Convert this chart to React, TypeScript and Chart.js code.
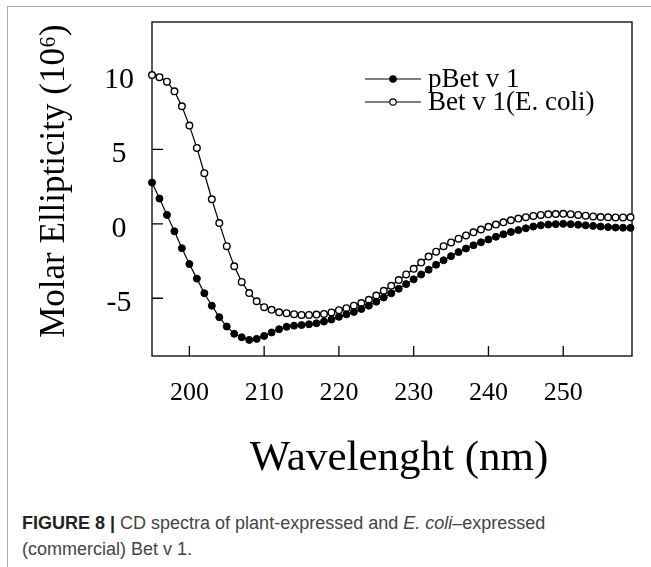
import React, { useEffect, useRef } from "react";
import { Chart, registerables } from "chart.js";

Chart.register(...registerables);

// ---- data ----
const wavelengths = [
  195, 196, 197, 198, 199, 200, 201, 202, 203, 204,
  205, 206, 207, 208, 209, 210, 211, 212, 213, 214,
  215, 216, 217, 218, 219, 220, 221, 222, 223, 224,
  225, 226, 227, 228, 229, 230, 231, 232, 233, 234,
  235, 236, 237, 238, 239, 240, 241, 242, 243, 244,
  245, 246, 247, 248, 249, 250, 251, 252, 253, 254,
  255, 256, 257, 258, 259,
];

const pBetValues = [
  2.77, 1.7, 0.6, -0.5, -1.64, -2.7, -3.68, -4.66, -5.5, -6.27,
  -6.9, -7.39, -7.62, -7.8, -7.73, -7.53, -7.3, -7.08, -6.92, -6.84,
  -6.8, -6.75, -6.68, -6.57, -6.43, -6.25, -6.08, -5.92, -5.72, -5.5,
  -5.23, -4.95, -4.67, -4.36, -4.05, -3.73, -3.4, -3.08, -2.75, -2.45,
  -2.17, -1.9, -1.66, -1.44, -1.24, -1.05, -0.87, -0.7, -0.55, -0.42,
  -0.3, -0.18, -0.1, -0.05, -0.02, 0.0, -0.02, -0.06, -0.1, -0.14,
  -0.18, -0.22, -0.25, -0.26, -0.27,
];

const betEcoliValues = [
  10.0, 9.85, 9.55, 8.9, 7.9, 6.6, 5.1, 3.4, 1.65, 0.05,
  -1.5, -2.85, -3.9, -4.65, -5.2, -5.6, -5.78, -5.94, -6.0, -6.07,
  -6.12, -6.12, -6.1, -6.05, -5.95, -5.8, -5.67, -5.5, -5.32, -5.1,
  -4.82, -4.5, -4.16, -3.78, -3.4, -3.02, -2.6, -2.2, -1.87, -1.5,
  -1.25, -1.0, -0.78, -0.57, -0.38, -0.2, -0.05, 0.1, 0.24, 0.35,
  0.45, 0.53, 0.6, 0.64, 0.66, 0.67, 0.65, 0.6, 0.55, 0.5,
  0.46, 0.44, 0.43, 0.43, 0.44,
];

const seriesNames = ["pBet v 1", "Bet v 1(E. coli)"];
const xTickValues = [200, 210, 220, 230, 240, 250];
const yTickValues = [-5, 0, 5, 10];
const xTitle = "Wavelenght (nm)";
const yTitle = "Molar Ellipticity (10\u2076)";

const SERIF = '"Liberation Serif", "Times New Roman", serif';

const frameAndTicks = {
  id: "frameAndTicks",
  beforeDatasetsDraw(chart: any) {
    const { ctx, chartArea, scales } = chart;
    const { left, right, top, bottom } = chartArea;
    ctx.save();
    ctx.strokeStyle = "#000";
    ctx.lineWidth = 1.3;
    ctx.strokeRect(left, top, right - left, bottom - top);
    ctx.beginPath();
    scales.x.ticks.forEach((t: any) => {
      const px = scales.x.getPixelForValue(t.value);
      ctx.moveTo(px, bottom);
      ctx.lineTo(px, bottom - 10);
    });
    scales.y.ticks.forEach((t: any) => {
      const py = scales.y.getPixelForValue(t.value);
      ctx.moveTo(left, py);
      ctx.lineTo(left + 11, py);
    });
    ctx.stroke();
    ctx.restore();
  },
};

const axisTitles = {
  id: "axisTitles",
  afterDraw(chart: any) {
    const { ctx, chartArea } = chart;
    ctx.save();
    ctx.fillStyle = "#000";
    ctx.textAlign = "center";
    ctx.textBaseline = "middle";
    // x title
    ctx.font = `43px ${SERIF}`;
    ctx.fillText(xTitle, (chartArea.left + chartArea.right) / 2 + 7, chartArea.bottom + 103);
    // y title
    ctx.font = `35px ${SERIF}`;
    ctx.translate(55, (chartArea.top + chartArea.bottom) / 2 - 8);
    ctx.rotate(-Math.PI / 2);
    ctx.fillText(yTitle, 0, 0);
    ctx.restore();
  },
};

const insideLegend = {
  id: "insideLegend",
  afterDraw(chart: any) {
    const { ctx, chartArea } = chart;
    const x0 = chartArea.left + 213;
    const len = 56;
    ctx.save();
    chart.data.datasets.forEach((ds: any, i: number) => {
      const y = chartArea.top + 57 + i * 23;
      ctx.strokeStyle = "#000";
      ctx.lineWidth = 1.2;
      ctx.beginPath();
      ctx.moveTo(x0, y);
      ctx.lineTo(x0 + len, y);
      ctx.stroke();
      ctx.beginPath();
      ctx.arc(x0 + len / 2, y, 3.2, 0, Math.PI * 2);
      ctx.fillStyle = ds.pointBackgroundColor;
      ctx.fill();
      ctx.lineWidth = 1.2;
      ctx.stroke();
      ctx.fillStyle = "#000";
      ctx.font = `27px ${SERIF}`;
      ctx.textBaseline = "middle";
      ctx.textAlign = "left";
      ctx.fillText(ds.label, x0 + len + 7, y + 1);
    });
    ctx.restore();
  },
};

export default function App() {
  const ref = useRef<HTMLCanvasElement | null>(null);

  useEffect(() => {
    if (!ref.current) return;
    const chart = new Chart(ref.current, {
      type: "line",
      data: {
        datasets: [
          {
            label: seriesNames[0],
            data: wavelengths.map((w, i) => ({ x: w, y: pBetValues[i] })),
            borderColor: "#000",
            backgroundColor: "#000",
            pointBackgroundColor: "#000",
            pointBorderColor: "#000",
            pointRadius: 3.5,
            pointBorderWidth: 1,
            borderWidth: 1.2,
            tension: 0,
            clip: false,
          },
          {
            label: seriesNames[1],
            data: wavelengths.map((w, i) => ({ x: w, y: betEcoliValues[i] })),
            borderColor: "#000",
            backgroundColor: "#fff",
            pointBackgroundColor: "#fff",
            pointBorderColor: "#000",
            pointRadius: 3.3,
            pointBorderWidth: 1.4,
            borderWidth: 1.2,
            tension: 0,
            clip: false,
          },
        ],
      } as any,
      options: {
        animation: false,
        responsive: false,
        events: [],
        layout: { padding: { left: 0, top: 22, right: 19, bottom: 4 } },
        plugins: {
          legend: { display: false },
          tooltip: { enabled: false },
        },
        scales: {
          x: {
            type: "linear",
            min: 195,
            max: 259.2,
            grid: { display: false, drawTicks: false },
            border: { display: false },
            ticks: {
              color: "#000",
              font: { family: SERIF, size: 26 },
              padding: 22,
              maxRotation: 0,
            },
            title: { display: false },
            afterBuildTicks: (s: any) => {
              s.ticks = xTickValues.map((v) => ({ value: v }));
            },
            afterFit: (s: any) => {
              s.height = 130;
              s.paddingLeft = 0;
              s.paddingRight = 0;
            },
          },
          y: {
            type: "linear",
            min: -8.88,
            max: 13.56,
            grid: { display: false, drawTicks: false },
            border: { display: false },
            ticks: {
              color: "#000",
              font: { family: SERIF, size: 30 },
              padding: 18,
              crossAlign: "center",
              labelOffset: 5,
            },
            title: { display: false },
            afterBuildTicks: (s: any) => {
              s.ticks = yTickValues.map((v) => ({ value: v }));
            },
            afterFit: (s: any) => {
              s.width = 152;
              s.paddingTop = 0;
              s.paddingBottom = 0;
            },
          },
        },
      } as any,
      plugins: [frameAndTicks, insideLegend, axisTitles],
    });
    return () => chart.destroy();
  }, []);

  return (
    <div
      style={{
        position: "fixed",
        left: 0,
        top: 0,
        width: 651,
        height: 567,
        overflow: "hidden",
        background: "#fff",
      }}
    >
      <div
        style={{
          position: "absolute",
          left: 7,
          top: 6,
          width: 720,
          height: 700,
          border: "1px solid #a8a8a8",
        }}
      />
      <canvas
        ref={ref}
        width={651}
        height={490}
        style={{ position: "absolute", left: 0, top: 0, width: 651, height: 490 }}
      />
      <div
        style={{
          position: "absolute",
          left: 22,
          top: 510,
          fontFamily: '"Liberation Sans", Arial, sans-serif',
          fontSize: 18,
          lineHeight: "26px",
          color: "#444",
          whiteSpace: "nowrap",
        }}
      >
        <b style={{ color: "#222" }}>FIGURE 8 |</b> CD spectra of plant-expressed and{" "}
        <i>E. coli</i>–expressed
        <br />
        (commercial) Bet v 1.
      </div>
    </div>
  );
}
